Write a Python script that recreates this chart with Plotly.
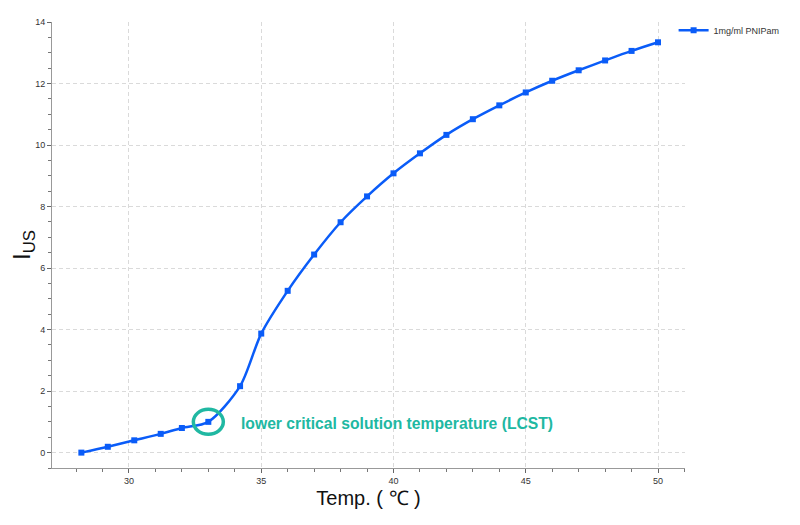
import plotly.graph_objects as go

# Data
temp = [28.2, 29.2, 30.2, 31.2, 32.0, 33.0, 34.2, 35.0, 36.0, 37.0, 38.0, 39.0,
        40.0, 41.0, 42.0, 43.0, 44.0, 45.0, 46.0, 47.0, 48.0, 49.0, 50.0]
ius = [0.0, 0.19, 0.40, 0.61, 0.80, 1.0, 2.16, 3.87, 5.26, 6.44, 7.49, 8.33,
       9.08, 9.73, 10.33, 10.84, 11.29, 11.71, 12.09, 12.43, 12.75, 13.06, 13.34]
series_name = "1mg/ml PNIPam"
lcst_index = 5
x_ticks = [30, 35, 40, 45, 50]
y_ticks = [0, 2, 4, 6, 8, 10, 12, 14]

BLUE = "#0a5cf8"
TEAL = "#20b8a2"

fig = go.Figure()
fig.add_trace(go.Scatter(
    x=temp, y=ius, name=series_name, mode="lines+markers",
    line=dict(color=BLUE, width=2.5, shape="spline", smoothing=0.8),
    marker=dict(symbol="square", size=6, color=BLUE),
))

# LCST highlight ellipse anchored to the data point
fig.add_shape(
    type="circle", xref="x", yref="y",
    xsizemode="pixel", ysizemode="pixel",
    xanchor=temp[lcst_index], yanchor=ius[lcst_index],
    x0=-15, x1=15, y0=-12.5, y1=12.5,
    line=dict(color=TEAL, width=3.5),
)
fig.add_annotation(
    x=temp[lcst_index], y=ius[lcst_index], xref="x", yref="y",
    text="<b>lower critical solution temperature (LCST)</b>",
    showarrow=False, xanchor="left", yanchor="middle",
    xshift=31, yshift=-2,
    font=dict(family="Liberation Sans, Arial", size=15.7, color=TEAL),
)

axis_common = dict(
    showline=True, linecolor="#999999", linewidth=1,
    showgrid=True, gridcolor="#dadada", griddash="4px,3px", gridwidth=1,
    ticks="outside", ticklen=4, tickcolor="#666666",
    tickfont=dict(family="Liberation Sans, Arial", size=9, color="#333333"),
    zeroline=False, mirror=False, automargin=False,
)

fig.update_xaxes(
    range=[27.09, 51.02], tickvals=x_ticks,
    minor=dict(dtick=1, ticks="outside", ticklen=3, tickcolor="#777777", showgrid=False),
    title=dict(text="Temp. ( ℃ )", standoff=6,
               font=dict(family="Liberation Sans Narrow, Liberation Sans, Arial", size=20, color="#111111")),
    **axis_common,
)
fig.update_yaxes(
    range=[-0.5, 14], tickvals=y_ticks,
    minor=dict(dtick=0.5, ticks="outside", ticklen=3, tickcolor="#777777", showgrid=False),
    title=dict(text="I<sub>US</sub>", standoff=4,
               font=dict(family="Liberation Sans, Arial", size=24, color="#111111")),
    **axis_common,
)

fig.update_layout(
    width=800, height=525,
    margin=dict(l=44, r=123, t=14, b=65, autoexpand=False),
    paper_bgcolor="white", plot_bgcolor="white",
    showlegend=True,
    legend=dict(x=0.982, y=1.014, xanchor="left", yanchor="top",
                font=dict(family="Liberation Sans, Arial", size=9, color="#333333"),
                bgcolor="rgba(0,0,0,0)", itemwidth=30),
)

fig.write_html("out.html")
